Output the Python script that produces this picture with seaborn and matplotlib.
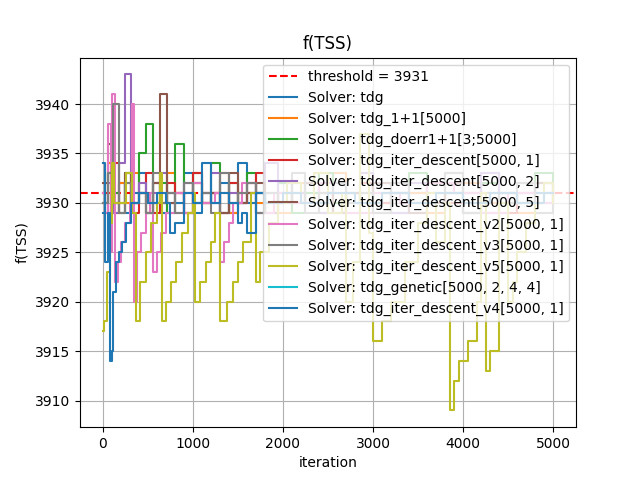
import numpy as np
import pandas as pd
import seaborn as sns
import matplotlib.pyplot as plt

threshold = 3931

# общая сетка итераций для "шумных" решателей
x_grid = [0, 60, 120, 180, 250, 320, 400, 480, 560, 640, 720, 800, 900, 1000, 1100,
          1200, 1300, 1400, 1500, 1600, 1700, 1800, 1950, 2100, 2250, 2400, 2550,
          2700, 2850, 3000, 3200, 3400, 3600, 3800, 4000, 4200, 4400, 4600, 4800, 5000]

y_tdg = [3929, 3933, 3930, 3932, 3929, 3931, 3933, 3930, 3932, 3929, 3931, 3930, 3933, 3929,
         3931, 3930, 3932, 3929, 3934, 3930, 3931, 3929, 3932, 3930, 3931, 3929, 3933, 3930,
         3931, 3932, 3929, 3931, 3930, 3933, 3929, 3931, 3930, 3932, 3931, 3930]
y_11 = [3931, 3934, 3929, 3932, 3930, 3933, 3931, 3929, 3932, 3930, 3933, 3931, 3929, 3932,
        3930, 3931, 3933, 3929, 3931, 3932, 3930, 3931, 3929, 3932, 3930, 3931, 3933, 3929,
        3931, 3930, 3932, 3931, 3929, 3931, 3932, 3930, 3931, 3929, 3932, 3931]
y_doerr = [3930, 3933, 3931, 3929, 3933, 3930, 3935, 3938, 3930, 3932, 3929, 3936, 3931, 3933,
           3930, 3934, 3929, 3932, 3930, 3933, 3931, 3930, 3932, 3929, 3931, 3933, 3930, 3931,
           3932, 3929, 3931, 3933, 3930, 3931, 3929, 3932, 3931, 3930, 3933, 3931]
y_it1 = [3931, 3929, 3934, 3930, 3932, 3929, 3931, 3933, 3929, 3930, 3932, 3931, 3929, 3933,
         3930, 3931, 3929, 3932, 3930, 3931, 3933, 3929, 3931, 3930, 3932, 3931, 3929, 3931,
         3932, 3930, 3931, 3929, 3932, 3930, 3931, 3933, 3929, 3931, 3930, 3931]
y_it2 = [3930, 3932, 3929, 3934, 3943, 3930, 3932, 3929, 3931, 3933, 3930, 3929, 3932, 3930,
         3931, 3933, 3929, 3931, 3930, 3932, 3929, 3934, 3930, 3931, 3932, 3929, 3931, 3930,
         3933, 3931, 3929, 3932, 3930, 3931, 3929, 3933, 3930, 3931, 3932, 3930]
y_it5 = [3932, 3936, 3930, 3929, 3933, 3930, 3931, 3929, 3932, 3941, 3930, 3931, 3929, 3932,
         3930, 3931, 3929, 3933, 3930, 3931, 3932, 3929, 3931, 3930, 3932, 3931, 3929, 3931,
         3930, 3932, 3931, 3929, 3930, 3932, 3931, 3929, 3931, 3930, 3932, 3931]
y_v3 = [3930, 3933, 3940, 3929, 3932, 3930, 3931, 3929, 3933, 3930, 3931, 3929, 3932, 3930,
        3931, 3929, 3933, 3930, 3931, 3932, 3929, 3931, 3930, 3933, 3929, 3931, 3932, 3930,
        3931, 3929, 3932, 3930, 3931, 3933, 3929, 3931, 3930, 3932, 3929, 3931]

x_v2 = [0, 30, 60, 90, 110, 140, 170, 200, 250, 300, 330, 350, 380, 430, 480, 530, 560,
        600, 650, 700, 800, 900, 1000, 1100, 1250, 1300, 1350, 1400, 1450, 1550, 1700,
        1900, 2100, 2400, 2700, 3000, 3300, 3600, 3900, 4200, 4500, 4800, 5000]
y_v2 = [3931, 3929, 3938, 3925, 3941, 3922, 3924, 3926, 3928, 3930, 3940, 3920, 3925, 3927,
        3929, 3931, 3923, 3925, 3927, 3929, 3931, 3929, 3932, 3930, 3931, 3924, 3926, 3928,
        3930, 3932, 3929, 3931, 3930, 3932, 3929, 3931, 3930, 3932, 3931, 3929, 3931, 3930, 3931]

x_v5 = [0, 20, 50, 80, 100, 130, 200, 260, 330, 370, 420, 480, 540, 600, 640, 660, 700,
        760, 820, 880, 950, 1000, 1020, 1080, 1150, 1200, 1250, 1300, 1380, 1450, 1500,
        1560, 1650, 1700, 1750, 1850, 1950, 2050, 2200, 2350, 2500, 2650, 2700, 2780,
        2850, 2950, 3000, 3100, 3200, 3350, 3500, 3600, 3700, 3800, 3850, 3900, 3950,
        4050, 4150, 4200, 4250, 4300, 4400, 4500, 4550, 4600, 4700, 4800, 4900, 5000]
y_v5 = [3917, 3918, 3923, 3928, 3934, 3930, 3930, 3933, 3929, 3918, 3922, 3925, 3928, 3930,
        3933, 3918, 3920, 3922, 3924, 3927, 3929, 3931, 3920, 3922, 3924, 3926, 3929, 3918,
        3920, 3922, 3924, 3926, 3931, 3922, 3925, 3928, 3930, 3932, 3930, 3933, 3929, 3931,
        3920, 3924, 3937, 3927, 3916, 3918, 3920, 3924, 3928, 3931, 3926, 3930, 3909, 3912,
        3914, 3916, 3920, 3931, 3913, 3915, 3930, 3920, 3922, 3925, 3928, 3930, 3932, 3930]

x_v4 = [0, 30, 60, 80, 100, 120, 150, 180, 220, 260, 320, 400, 500, 600, 700, 750, 800,
        900, 1000, 1100, 1200, 1300, 1400, 1500, 1550, 1600, 1700, 1800, 2000, 2200, 2500,
        2800, 3100, 3400, 3700, 4000, 4300, 4600, 4900, 5000]
y_v4 = [3934, 3924, 3929, 3914, 3915, 3921, 3924, 3925, 3926, 3928, 3930, 3931, 3930, 3931,
        3930, 3927, 3928, 3931, 3930, 3934, 3930, 3931, 3930, 3928, 3929, 3927, 3931, 3930,
        3931, 3930, 3931, 3930, 3931, 3930, 3931, 3930, 3931, 3930, 3931, 3931]

labels = ['Solver: tdg', 'Solver: tdg_1+1[5000]', 'Solver: tdg_doerr1+1[3;5000]',
          'Solver: tdg_iter_descent[5000, 1]', 'Solver: tdg_iter_descent[5000, 2]',
          'Solver: tdg_iter_descent[5000, 5]', 'Solver: tdg_iter_descent_v2[5000, 1]',
          'Solver: tdg_iter_descent_v3[5000, 1]', 'Solver: tdg_iter_descent_v5[5000, 1]',
          'Solver: tdg_genetic[5000, 2, 4, 4]', 'Solver: tdg_iter_descent_v4[5000, 1]']
series = [(x_grid, y_tdg), (x_grid, y_11), (x_grid, y_doerr), (x_grid, y_it1),
          (x_grid, y_it2), (x_grid, y_it5), (x_v2, y_v2), (x_grid, y_v3),
          (x_v5, y_v5), ([0], [3931]), (x_v4, y_v4)]
colors = ['#1f77b4', '#ff7f0e', '#2ca02c', '#d62728', '#9467bd', '#8c564b',
          '#e377c2', '#7f7f7f', '#bcbd22', '#17becf', '#1f77b4']

fig, ax = plt.subplots(figsize=(6.4, 4.8), dpi=100)
ax.axhline(threshold, color='red', ls='--', label=f'threshold = {threshold}')
for (xs, ys), lab, c in zip(series, labels, colors):
    df = pd.DataFrame({'iteration': xs, 'f(TSS)': ys})
    sns.lineplot(data=df, x='iteration', y='f(TSS)', ax=ax, color=c, label=lab,
                 drawstyle='steps-post', estimator=None)
ax.set_xlim(-250, 5250)
ax.set_ylim(3907.3, 3944.7)
ax.grid(True)
ax.set_title('f(TSS)')
ax.legend(loc='upper right')
plt.savefig('out.png')
